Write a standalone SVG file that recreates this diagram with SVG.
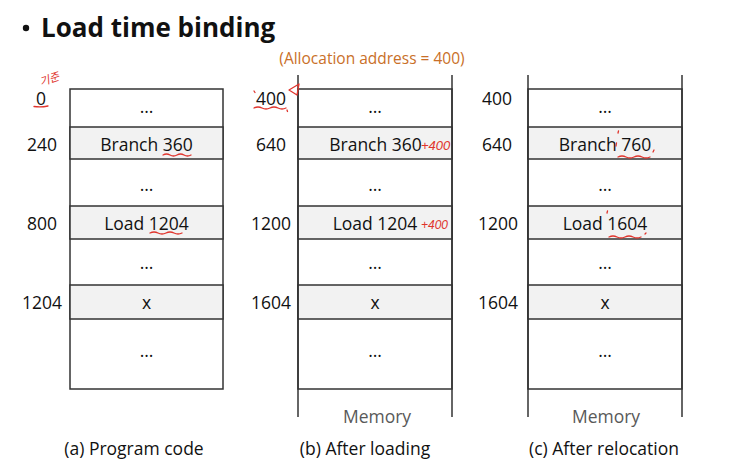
<svg xmlns="http://www.w3.org/2000/svg" width="744" height="468" viewBox="0 0 744 468">
<style>
  .t{font-family:"Open Sans","Liberation Sans",sans-serif;font-size:17.5px;fill:#111;text-anchor:middle}
  .cap{font-family:"Open Sans","Liberation Sans",sans-serif;font-size:17.5px;fill:#111;text-anchor:middle}
  .mem{font-family:"Open Sans","Liberation Sans",sans-serif;font-size:17.5px;fill:#595959;text-anchor:middle}
  .box{fill:#fff;stroke:#333;stroke-width:1.5}
  .gray{fill:#f2f2f2;stroke:#333;stroke-width:1.5}
  .ln{stroke:#333;stroke-width:1.5;fill:none}
  .red{fill:none;stroke:#e0342c;stroke-width:1.3;stroke-linecap:round;stroke-linejoin:round}
  .redt{font-family:"Liberation Sans","Noto Sans CJK KR",sans-serif;fill:#e0342c;font-style:italic}
</style>
<rect width="744" height="468" fill="#fff"/>
<circle cx="26" cy="28" r="3.2" fill="#111"/>
<text x="41" y="37" style="font-family:'Open Sans','Liberation Sans',sans-serif;font-size:26px;font-weight:bold;fill:#111">Load time binding</text>
<text x="372" y="64" style="font-family:'Open Sans','Liberation Sans',sans-serif;font-size:15.5px;fill:#c96f28;text-anchor:middle">(Allocation address = 400)</text>

<g id="col-a">
  <rect class="box" x="70" y="89" width="153" height="300"/>
  <rect class="gray" x="70" y="127" width="153" height="32"/>
  <rect class="gray" x="70" y="206" width="153" height="33"/>
  <rect class="gray" x="70" y="285" width="153" height="34"/>
  <text class="t" x="146.5" y="113">…</text>
  <text class="t" x="146.5" y="150.5">Branch 360</text>
  <text class="t" x="146.5" y="191">…</text>
  <text class="t" x="146.5" y="229.5">Load 1204</text>
  <text class="t" x="146.5" y="269">…</text>
  <text class="t" x="146.5" y="309">x</text>
  <text class="t" x="146.5" y="357">…</text>
  <text class="t" x="41" y="104.5">0</text>
  <text class="t" x="42" y="150.5">240</text>
  <text class="t" x="42" y="229.5">800</text>
  <text class="t" x="42" y="309">1204</text>
  <text class="cap" x="134" y="455">(a) Program code</text>
</g>

<g id="col-b">
  <rect class="box" x="298" y="89" width="154" height="300"/>
  <rect class="gray" x="298" y="127" width="154" height="32"/>
  <rect class="gray" x="298" y="206" width="154" height="33"/>
  <rect class="gray" x="298" y="285" width="154" height="34"/>
  <line class="ln" x1="298" y1="75" x2="298" y2="417"/>
  <line class="ln" x1="452" y1="75" x2="452" y2="417"/>
  <text class="t" x="375" y="113">…</text>
  <text class="t" x="375.5" y="150.5">Branch 360</text>
  <text class="t" x="375" y="191">…</text>
  <text class="t" x="375" y="229.5">Load 1204</text>
  <text class="t" x="375" y="269">…</text>
  <text class="t" x="375" y="309">x</text>
  <text class="t" x="375" y="357">…</text>
  <text class="t" x="271" y="105">400</text>
  <text class="t" x="271" y="150.5">640</text>
  <text class="t" x="271" y="229.5">1200</text>
  <text class="t" x="271" y="309">1604</text>
  <text class="mem" x="377" y="423">Memory</text>
  <text class="cap" x="365" y="455">(b) After loading</text>
</g>

<g id="col-c">
  <rect class="box" x="528" y="89" width="154" height="300"/>
  <rect class="gray" x="528" y="127" width="154" height="32"/>
  <rect class="gray" x="528" y="206" width="154" height="33"/>
  <rect class="gray" x="528" y="285" width="154" height="34"/>
  <line class="ln" x1="528" y1="75" x2="528" y2="417"/>
  <line class="ln" x1="682" y1="75" x2="682" y2="417"/>
  <text class="t" x="605" y="113">…</text>
  <text class="t" x="605" y="150.5">Branch 760</text>
  <text class="t" x="605" y="191">…</text>
  <text class="t" x="605" y="229.5">Load 1604</text>
  <text class="t" x="605" y="269">…</text>
  <text class="t" x="605" y="309">x</text>
  <text class="t" x="605" y="357">…</text>
  <text class="t" x="497" y="105">400</text>
  <text class="t" x="497" y="150.5">640</text>
  <text class="t" x="498" y="229.5">1200</text>
  <text class="t" x="498" y="309">1604</text>
  <text class="mem" x="606" y="423">Memory</text>
  <text class="cap" x="604" y="455">(c) After relocation</text>
</g>

<g id="annotations">
  <text class="redt" x="41" y="86" font-size="11" transform="rotate(-18 41 86)">기준</text>
  <path class="red" d="M34 106.5 Q41 107.5 48 106"/>
  <path class="red" d="M163 155 q3.5 -2 7 0 t7 0 t7 0 t7 0"/>
  <path class="red" d="M150 233 q4 -2 8 0 t8 0 t8 0 t8 0"/>
  <path class="red" d="M254 108 q4 -2 8 0 t8 0 t8 0 t8 0"/>
  <path class="red" d="M254 91 l1 1.5 M287 110 l0.5 1.5"/>
  <path class="red" d="M289 90 L299 84 L297 95 Z"/>
  <text class="redt" x="421" y="150" font-size="13">+400</text>
  <text class="redt" x="421" y="229" font-size="12">+400</text>
  <path class="red" d="M618 157 q4 -2 8 0 t8 0 t8 0 t8 0"/>
  <path class="red" d="M616 146 l0.5 -3 M653 152 l1 -2 M618 133 l0.5 -2"/>
  <path class="red" d="M609 237 q4 -2 8 0 t8 0 t8 0 t8 0"/>
  <path class="red" d="M607 213 l0.5 -2 M645 234 l1 -1"/>
</g>
</svg>
